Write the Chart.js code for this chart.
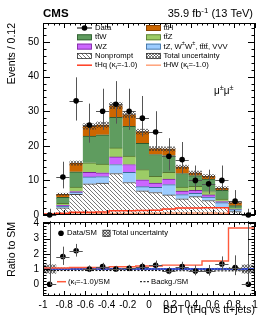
<!DOCTYPE html>
<html>
<head>
<meta charset="utf-8">
<script src="https://cdn.jsdelivr.net/npm/chart.js@4.4.1/dist/chart.umd.min.js"></script>
<style>
  html, body { margin: 0; padding: 0; background: #fff; }
  #wrap { position: relative; width: 266px; height: 322px; }
  canvas { position: absolute; left: 0; }
</style>
</head>
<body>
<div id="wrap">
  <canvas id="main" width="266" height="218" style="top:0"></canvas>
  <canvas id="ratio" width="266" height="104" style="top:218px"></canvas>
</div>
<script>
// bins of the BDT output
const binCenters = [-0.9375, -0.8125, -0.6875, -0.5625, -0.4375, -0.3125, -0.1875, -0.0625,
                    0.0625, 0.1875, 0.3125, 0.4375, 0.5625, 0.6875, 0.8125, 0.9375];
const binEdges = [-1, -0.875, -0.75, -0.625, -0.5, -0.375, -0.25, -0.125, 0,
                  0.125, 0.25, 0.375, 0.5, 0.625, 0.75, 0.875, 1];

// stacked backgrounds (bottom to top)
const nonprompt = [0.1, 2.1, 6.0, 9.0, 9.2, 12.0, 9.4, 7.0, 6.5, 5.8, 4.7, 5.3, 4.2, 2.2, 1.0, 0.02];
const rare      = [0.02, 0.4, 0.5, 2.0, 1.9, 2.6, 2.9, 1.2, 1.5, 3.0, 1.2, 1.0, 1.0, 1.4, 0.6, 0.01];
const wz        = [0.02, 0.3, 0.3, 1.3, 1.1, 2.2, 2.3, 2.0, 1.2, 1.6, 1.0, 0.8, 0.6, 0.3, 0.1, 0.0];
const ttz       = [0.02, 0.6, 1.3, 2.8, 2.5, 2.6, 2.4, 2.9, 2.0, 1.9, 1.2, 1.2, 1.0, 0.7, 0.3, 0.0];
const ttw       = [0.03, 1.7, 4.4, 7.7, 8.5, 8.8, 8.6, 7.6, 6.3, 4.9, 3.9, 3.1, 3.6, 2.5, 0.7, 0.01];
const tth       = [0.02, 0.9, 2.5, 2.8, 2.9, 3.4, 3.4, 3.4, 1.7, 1.9, 1.9, 0.8, 0.8, 0.7, 0.9, 0.01];
const totalUnc  = [0.1, 0.4, 0.7, 0.9, 0.9, 1.0, 0.9, 0.8, 0.7, 0.7, 0.6, 0.6, 0.6, 0.5, 0.4, 0.1];

// signal lines (kappa_t = -1)
const thq = [0.05, 0.3, 0.5, 0.8, 0.8, 0.9, 1.2, 1.25, 1.3, 1.4, 1.7, 2.0, 2.0, 2.1, 2.1, 0.05];
const thw = [0.02, 0.1, 0.2, 0.3, 0.3, 0.35, 0.4, 0.4, 0.45, 0.5, 0.55, 0.6, 0.6, 0.6, 0.5, 0.02];

// observed data
const dataObs   = [0, 11, 33, 26, 30, 32, 30, 28, 24, 17, 16, 10, 9, 10, 4, 0];
const dataErrUp = [1.8, 4.4, 6.8, 6.2, 6.5, 6.7, 6.5, 6.4, 6.0, 5.2, 5.1, 4.3, 4.1, 4.3, 3.2, 1.8];
const dataErrDn = [0, 3.3, 5.7, 5.1, 5.4, 5.6, 5.4, 5.3, 4.9, 4.1, 4.0, 3.1, 2.9, 3.1, 1.9, 0];

// ratio panel
const ratioObs   = [0, 1.82, 2.2, 1.0, 1.16, 1.0, 1.05, 1.16, 1.25, 0.87, 1.16, 0.87, 0.87, 1.33, 1.1, 0];
const ratioErrUp = [5, 0.65, 0.45, 0.24, 0.25, 0.21, 0.23, 0.26, 0.31, 0.27, 0.32, 0.37, 0.4, 0.5, 0.8, 5];
const ratioErrDn = [0, 0.55, 0.38, 0.2, 0.21, 0.18, 0.19, 0.22, 0.26, 0.21, 0.25, 0.28, 0.3, 0.38, 0.5, 0];
const ratioUnc   = [0.3, 0.1, 0.06, 0.05, 0.05, 0.05, 0.05, 0.05, 0.05, 0.05, 0.06, 0.06, 0.07, 0.08, 0.12, 0.3];
const smRatio    = [1, 1, 1, 1, 1, 1, 1, 1, 1, 1, 1, 1, 1, 1, 1, 1];
const kapRatio   = [1.07, 1.07, 1.07, 1.1, 1.1, 1.1, 1.15, 1.15, 1.2, 1.2, 1.26, 1.26, 1.26, 1.53, 1.53, 3.7];
const bkgRatio   = [0.9, 0.9, 0.9, 0.9, 0.9, 0.9, 0.9, 0.9, 0.9, 0.9, 0.9, 0.89, 0.89, 0.88, 0.88, 0.88];

const FONT = '"Liberation Sans", Arial, Helvetica, sans-serif';

function pts(vals) { return vals.map((v, i) => ({ x: binCenters[i], y: v })); }
function steps(vals) {
  return binEdges.map((e, i) => ({ x: e, y: vals[Math.min(i, vals.length - 1)] }));
}

function makeHatch(bg, fg, size, cross) {
  const c = document.createElement('canvas');
  c.width = c.height = size;
  const g = c.getContext('2d');
  if (bg) { g.fillStyle = bg; g.fillRect(0, 0, size, size); }
  g.strokeStyle = fg;
  g.lineWidth = 0.8;
  g.beginPath();
  for (const k of [-size, 0, size]) {
    g.moveTo(k, 0); g.lineTo(k + size, size);
    if (cross) { g.moveTo(k + size, 0); g.lineTo(k, size); }
  }
  g.stroke();
  return g.createPattern(c, 'repeat');
}
const npHatch = makeHatch('#fff', '#555', 4, false);
const uncHatch = makeHatch(null, 'rgba(50,50,50,0.8)', 3, true);
const ratioHatch = makeHatch('rgba(170,170,170,0.35)', 'rgba(50,50,50,0.8)', 3, true);

function richText(ctx, parts, x, y, size) {
  let cx = x;
  for (const p of parts) {
    const [txt, mode] = Array.isArray(p) ? p : [p, ''];
    const s = mode ? size * 0.72 : size;
    ctx.font = `${s}px ${FONT}`;
    const dy = mode === 'sub' ? size * 0.28 : mode === 'sup' ? -size * 0.38 : 0;
    ctx.fillText(txt, cx, y + dy);
    cx += ctx.measureText(txt).width;
  }
  return cx - x;
}
function richWidth(ctx, parts, size) {
  let w = 0;
  for (const p of parts) {
    const [txt, mode] = Array.isArray(p) ? p : [p, ''];
    ctx.font = `${mode ? size * 0.72 : size}px ${FONT}`;
    w += ctx.measureText(txt).width;
  }
  return w;
}

function drawBand(chart, lo, hi, pattern) {
  const { ctx, chartArea: a, scales: { x, y } } = chart;
  ctx.save();
  ctx.beginPath(); ctx.rect(a.left, a.top, a.width, a.height); ctx.clip();
  ctx.fillStyle = pattern;
  lo.forEach((l, i) => {
    const x0 = x.getPixelForValue(binEdges[i]), x1 = x.getPixelForValue(binEdges[i + 1]);
    const y0 = y.getPixelForValue(hi[i]), y1 = y.getPixelForValue(l);
    ctx.fillRect(x0, y0, x1 - x0, y1 - y0);
  });
  ctx.restore();
}

function drawErrors(chart, vals, up, dn) {
  const { ctx, chartArea: a, scales: { x, y } } = chart;
  ctx.save();
  ctx.beginPath(); ctx.rect(a.left, a.top - 1, a.width, a.height + 2); ctx.clip();
  ctx.strokeStyle = '#555';
  ctx.lineWidth = 1;
  ctx.beginPath();
  vals.forEach((v, i) => {
    const xc = Math.round(x.getPixelForValue(binCenters[i])) + 0.5;
    const yc = Math.round(y.getPixelForValue(v)) + 0.5;
    ctx.moveTo(xc, y.getPixelForValue(v + up[i]));
    ctx.lineTo(xc, y.getPixelForValue(v - dn[i]));
    ctx.moveTo(x.getPixelForValue(binEdges[i]), yc);
    ctx.lineTo(x.getPixelForValue(binEdges[i + 1]), yc);
  });
  ctx.stroke();
  ctx.restore();
}

// inside ticks on all four sides, ROOT style
function frameTicks(chart, yStep, yMajorEvery, yMax) {
  const { ctx, chartArea: a, scales: { x, y } } = chart;
  ctx.save();
  ctx.strokeStyle = '#000';
  ctx.lineWidth = 1;
  ctx.beginPath();
  for (let k = 0; k <= 40; k++) {
    const px = Math.round(x.getPixelForValue(-1 + k * 0.05)) + 0.5;
    const len = k % 4 === 0 ? 5 : 2.5;
    ctx.moveTo(px, a.bottom); ctx.lineTo(px, a.bottom - len);
    ctx.moveTo(px, a.top); ctx.lineTo(px, a.top + len);
  }
  for (let k = Math.ceil(y.min / yStep); k * yStep <= yMax + 1e-9; k++) {
    const py = Math.round(y.getPixelForValue(k * yStep)) + 0.5;
    const len = k % yMajorEvery === 0 ? 7 : 3.5;
    ctx.moveTo(a.left, py); ctx.lineTo(a.left + len, py);
    ctx.moveTo(a.right, py); ctx.lineTo(a.right - len, py);
  }
  ctx.stroke();
  ctx.strokeRect(a.left + 0.5, a.top + 0.5, a.width - 1, a.height - 1);
  ctx.restore();
}

const totals = nonprompt.map((v, i) => v + rare[i] + wz[i] + ttz[i] + ttw[i] + tth[i]);

const mainDecor = {
  id: 'mainDecor',
  afterDatasetDraw(chart, args) {
    if (args.index === 0) {
      drawBand(chart, totals.map((t, i) => t - totalUnc[i]), totals.map((t, i) => t + totalUnc[i]), uncHatch);
    }
    if (args.index === 7) drawErrors(chart, dataObs, dataErrUp, dataErrDn);
  },
  afterDraw(chart) {
    const { ctx } = chart;
    frameTicks(chart, 2, 5, 54);
    ctx.save();
    ctx.fillStyle = '#000';
    ctx.textBaseline = 'alphabetic';
    ctx.font = `bold 11.5px ${FONT}`;
    ctx.fillText('CMS', 43, 17);
    const lumi = ['35.9 fb', ['-1', 'sup'], ' (13 TeV)'];
    richText(ctx, lumi, 253 - richWidth(ctx, lumi, 11), 17, 11);
    richText(ctx, ['\u03bc', ['\u00b1', 'sup'], '\u03bc', ['\u00b1', 'sup']], 214, 94, 10);

    // legend
    const rows = [28, 37.3, 46.6, 55.9, 65.2];
    const fs = 7.7;
    ctx.textBaseline = 'middle';
    const box = (x0, r, fill, edge) => {
      ctx.fillStyle = fill; ctx.fillRect(x0, rows[r] - 3, 15, 6);
      ctx.strokeStyle = edge; ctx.lineWidth = 0.8; ctx.strokeRect(x0 + 0.5, rows[r] - 2.5, 14, 5);
    };
    const line = (x0, r, col) => {
      ctx.strokeStyle = col; ctx.lineWidth = 1.5;
      ctx.beginPath(); ctx.moveTo(x0, rows[r]); ctx.lineTo(x0 + 15, rows[r]); ctx.stroke();
    };
    ctx.strokeStyle = '#000'; ctx.lineWidth = 1;
    ctx.beginPath(); ctx.moveTo(77, rows[0]); ctx.lineTo(92, rows[0]); ctx.stroke();
    ctx.fillStyle = '#000'; ctx.beginPath(); ctx.arc(84.5, rows[0], 2.8, 0, Math.PI * 2); ctx.fill();
    box(77, 1, '#5f9c5f', '#2e5a2e');
    box(77, 2, '#cc66ff', '#7a2a9a');
    box(77, 3, npHatch, '#333');
    line(77, 4, '#ff3b1f');
    box(146, 0, '#cc6600', '#7a3a00');
    box(146, 1, '#9ccc66', '#557733');
    box(146, 2, '#9cccff', '#3a6a9a');
    ctx.fillStyle = '#fff'; ctx.fillRect(146, rows[3] - 3, 15, 6);
    box(146, 3, uncHatch, '#333');
    line(146, 4, '#ffa27a');
    ctx.fillStyle = '#000';
    const t1 = [['Data'], ['tt\u0304W'], ['WZ'], ['Nonprompt'], ['tHq (\u03ba', ['t', 'sub'], '=-1.0)']];
    const t2 = [['tt\u0304H'], ['tt\u0304Z'], ['tZ, W', ['\u00b1', 'sup'], 'W', ['\u00b1', 'sup'], ', tt\u0304tt\u0304, VVV'],
                ['Total uncertainty'], ['tHW (\u03ba', ['t', 'sub'], '=-1.0)']];
    t1.forEach((p, r) => richText(ctx, p, 95, rows[r], fs));
    t2.forEach((p, r) => richText(ctx, p, 163.5, rows[r], fs));
    ctx.restore();
  }
};

const yWidth = (scale) => { scale.width = 43; };
// invisible tick marks give the 4px gap without inflating the layout padding
const hiddenTicks = { display: true, drawOnChartArea: false, drawTicks: true, tickLength: 4, tickColor: 'rgba(0,0,0,0)' };

new Chart(document.getElementById('main'), {
  data: {
    datasets: [
      { type: 'bar', label: 'Nonprompt', data: pts(nonprompt), backgroundColor: npHatch, borderColor: '#444' },
      { type: 'bar', label: 'tZ, W\u00b1W\u00b1, tt\u0304tt\u0304, VVV', data: pts(rare), backgroundColor: '#9cccff', borderColor: '#3a6a9a' },
      { type: 'bar', label: 'WZ', data: pts(wz), backgroundColor: '#cc66ff', borderColor: '#7a2a9a' },
      { type: 'bar', label: 'tt\u0304Z', data: pts(ttz), backgroundColor: '#9ccc66', borderColor: '#557733' },
      { type: 'bar', label: 'tt\u0304W', data: pts(ttw), backgroundColor: '#5f9c5f', borderColor: '#2e5a2e' },
      { type: 'bar', label: 'tt\u0304H', data: pts(tth), backgroundColor: '#cc6600', borderColor: '#7a3a00' },
      { type: 'line', label: 'tHW', data: steps(thw), stepped: 'after', borderColor: '#ffa27a', borderWidth: 1.5,
        pointRadius: 0, stack: 'thw', order: 2 },
      { type: 'line', label: 'tHq', data: steps(thq), stepped: 'after', borderColor: '#ff3b1f', borderWidth: 1.5,
        pointRadius: 0, stack: 'thq', order: 1 },
      { type: 'scatter', label: 'Data', data: pts(dataObs), pointRadius: 2.8, pointBackgroundColor: '#000',
        pointBorderWidth: 0, stack: 'data', order: 0, clip: 6 }
    ].map(d => d.type === 'bar'
      ? Object.assign({ stack: 'bkg', order: 10, barPercentage: 1, categoryPercentage: 1,
                        borderWidth: { top: 1, left: 0, right: 0, bottom: 0 }, borderSkipped: false }, d)
      : d)
  },
  options: {
    responsive: false,
    animation: false,
    events: [],
    layout: { autoPadding: false, padding: { top: 23, right: 11, bottom: 3, left: 0 } },
    plugins: { legend: { display: false }, tooltip: { enabled: false } },
    scales: {
      x: { type: 'linear', min: -1, max: 1, offset: false, display: false, stacked: true, grid: { offset: false } },
      y: {
        min: 0, max: 55.5, stacked: true,
        afterFit: yWidth,
        afterBuildTicks: (s) => { s.ticks = [0, 10, 20, 30, 40, 50].map(v => ({ value: v })); },
        grid: hiddenTicks,
        border: { display: false },
        ticks: { color: '#000', padding: 0, font: { family: FONT, size: 10, lineHeight: 0.5 } },
        title: { display: true, text: 'Events / 0.12', align: 'end', color: '#000',
                 font: { family: FONT, size: 10.5 }, padding: { top: 5.5, bottom: 0 } }
      }
    }
  },
  plugins: [mainDecor]
});

const ratioDecor = {
  id: 'ratioDecor',
  beforeDatasetsDraw(chart) {
    drawBand(chart, smRatio.map((v, i) => v - ratioUnc[i]), smRatio.map((v, i) => v + ratioUnc[i]), ratioHatch);
  },
  afterDatasetDraw(chart, args) {
    if (args.index === 3) drawErrors(chart, ratioObs, ratioErrUp, ratioErrDn);
  },
  afterDraw(chart) {
    const { ctx } = chart;
    frameTicks(chart, 0.2, 5, 4.0);
    ctx.save();
    ctx.textBaseline = 'middle';
    ctx.fillStyle = '#000';
    const fs = 7.7;
    const r1 = 15.3, r2 = 63.7;
    ctx.beginPath(); ctx.arc(61, r1, 2.8, 0, Math.PI * 2); ctx.fill();
    richText(ctx, ['Data/SM'], 67, r1, fs);
    ctx.fillStyle = '#fff'; ctx.fillRect(102.5, r1 - 3.5, 8, 7);
    ctx.fillStyle = ratioHatch; ctx.fillRect(102.5, r1 - 3.5, 8, 7);
    ctx.strokeStyle = '#333'; ctx.lineWidth = 0.8; ctx.strokeRect(103, r1 - 3, 7, 6);
    ctx.fillStyle = '#000';
    richText(ctx, ['Total uncertainty'], 112, r1, fs);
    ctx.strokeStyle = '#ff5a3c'; ctx.lineWidth = 1.5;
    ctx.beginPath(); ctx.moveTo(57, r2); ctx.lineTo(66, r2); ctx.stroke();
    richText(ctx, ['(\u03ba', ['t', 'sub'], '=-1.0)/SM'], 68, r2, fs);
    ctx.strokeStyle = '#000'; ctx.lineWidth = 1; ctx.setLineDash([2, 1.5]);
    ctx.beginPath(); ctx.moveTo(140, r2); ctx.lineTo(149, r2); ctx.stroke();
    ctx.setLineDash([]);
    richText(ctx, ['Backg./SM'], 151, r2, fs);
    ctx.restore();
  }
};

new Chart(document.getElementById('ratio'), {
  data: {
    datasets: [
      { type: 'line', label: 'SM', data: steps(smRatio), stepped: 'after', borderColor: '#1a33cc', borderWidth: 1.6,
        pointRadius: 0, order: 3 },
      { type: 'line', label: '(\u03bat=-1.0)/SM', data: steps(kapRatio), stepped: 'after', borderColor: '#ff5a3c',
        borderWidth: 1.4, pointRadius: 0, order: 2 },
      { type: 'line', label: 'Backg./SM', data: steps(bkgRatio), stepped: 'after', borderColor: '#000',
        borderWidth: 1, borderDash: [2, 1.5], pointRadius: 0, order: 2 },
      { type: 'scatter', label: 'Data/SM', data: pts(ratioObs), pointRadius: 2.8, pointBackgroundColor: '#000',
        pointBorderWidth: 0, order: 0, clip: 6 }
    ]
  },
  options: {
    responsive: false,
    animation: false,
    events: [],
    layout: { autoPadding: false, padding: { top: 4, right: 11, bottom: 0, left: 0 } },
    plugins: { legend: { display: false }, tooltip: { enabled: false } },
    scales: {
      x: {
        type: 'linear', min: -1, max: 1, offset: false,
        afterFit: (s) => { s.height = 26; },
        grid: { display: false, drawTicks: false, offset: false },
        border: { display: false },
        ticks: {
          stepSize: 0.2, padding: 3, color: '#000', maxRotation: 0, autoSkip: false,
          font: { family: FONT, size: 10 },
          callback: (v) => String(Math.round(v * 10) / 10)
        },
        title: { display: true, text: 'BDT (tHq vs tt\u0304+jets)', align: 'end', color: '#000',
                 font: { family: FONT, size: 10.5 }, padding: { top: 0, bottom: 6 } }
      },
      y: {
        min: -0.77, max: 4.09,
        afterFit: yWidth,
        afterBuildTicks: (s) => { s.ticks = [0, 1, 2, 3, 4].map(v => ({ value: v })); },
        grid: hiddenTicks,
        border: { display: false },
        ticks: { color: '#000', padding: 0, font: { family: FONT, size: 10, lineHeight: 0.5 } },
        title: { display: true, text: 'Ratio to SM', align: 'end', color: '#000',
                 font: { family: FONT, size: 10.5 }, padding: { top: 5.5, bottom: 0 } }
      }
    }
  },
  plugins: [ratioDecor]
});
</script>
</body>
</html>
